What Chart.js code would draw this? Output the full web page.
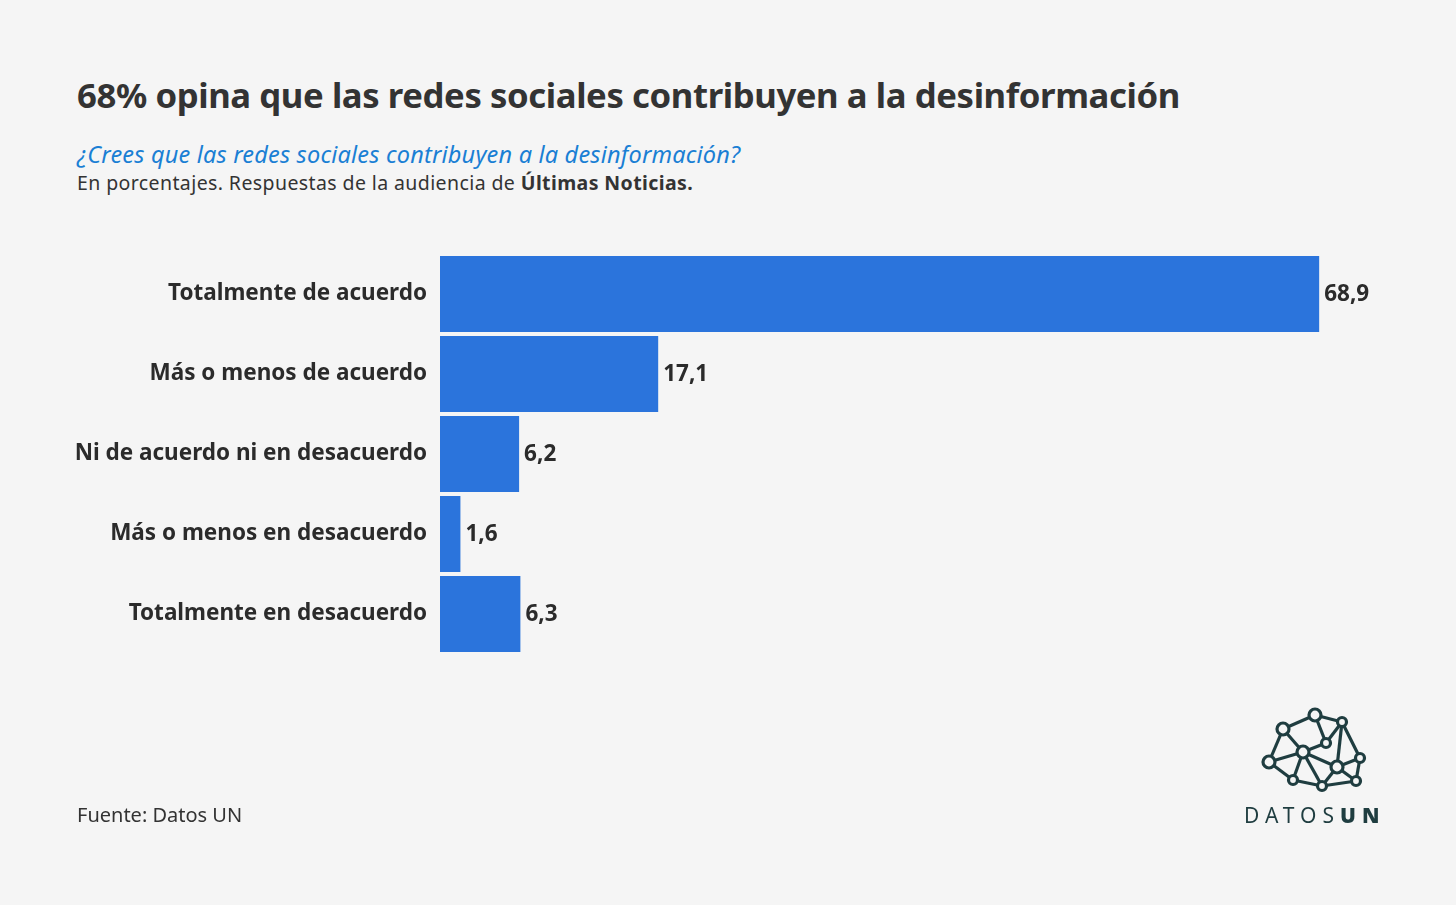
<!DOCTYPE html>
<html>
<head>
<meta charset="utf-8">
<script src="https://cdn.jsdelivr.net/npm/chart.js@4"></script>
<style>
  html, body { margin: 0; padding: 0; background: #f5f5f5; }
  body { width: 1456px; height: 905px; position: relative; overflow: hidden; font-family: "Noto Sans", sans-serif; color: #333; }
  #wrap { position: absolute; left: 0; top: 0; width: 1456px; height: 905px; }
  .title { position: absolute; left: 77px; top: 71px; font-size: 34.7px; font-weight: 700; letter-spacing: -0.4px; white-space: nowrap; }
  .question { position: absolute; left: 77px; top: 138px; font-size: 23.5px; font-style: italic; color: #1a7fd4; letter-spacing: 0.2px; white-space: nowrap; }
  .note { position: absolute; left: 77px; top: 169px; font-size: 19.5px; letter-spacing: 0.4px; white-space: nowrap; }
  .source { position: absolute; left: 77px; top: 801px; font-size: 20px; letter-spacing: 0; }
  .logo { position: absolute; left: 1240px; top: 700px; }
  .brand { position: absolute; left: 1244px; top: 801px; font-size: 21px; letter-spacing: 6px; color: #1f3d40; }
</style>
</head>
<body>
<div class="title">68% opina que las redes sociales contribuyen a la desinformación</div>
<div class="question">¿Crees que las redes sociales contribuyen a la desinformación?</div>
<div class="note">En porcentajes. Respuestas de la audiencia de <b>Últimas Noticias.</b></div>
<div id="wrap"><canvas id="barChart" width="1456" height="905"></canvas></div>
<div class="source">Fuente: Datos UN</div>

<svg class="logo" width="140" height="100" viewBox="1240 700 140 100">
  <g stroke="#1f3d40" stroke-width="3.2" fill="none">
    <line x1="1283" y1="729" x2="1315" y2="715"/>
    <line x1="1315" y1="715" x2="1342" y2="722"/>
    <line x1="1315" y1="715" x2="1326" y2="743"/>
    <line x1="1342" y1="722" x2="1326" y2="743"/>
    <line x1="1342" y1="722" x2="1337" y2="767"/>
    <line x1="1342" y1="722" x2="1360" y2="758"/>
    <line x1="1283" y1="729" x2="1303" y2="752"/>
    <line x1="1283" y1="729" x2="1269" y2="762"/>
    <line x1="1269" y1="762" x2="1303" y2="752"/>
    <line x1="1303" y1="752" x2="1326" y2="743"/>
    <line x1="1303" y1="752" x2="1293" y2="780"/>
    <line x1="1303" y1="752" x2="1322" y2="786"/>
    <line x1="1303" y1="752" x2="1337" y2="767"/>
    <line x1="1269" y1="762" x2="1293" y2="780"/>
    <line x1="1293" y1="780" x2="1322" y2="786"/>
    <line x1="1322" y1="786" x2="1337" y2="767"/>
    <line x1="1337" y1="767" x2="1360" y2="758"/>
    <line x1="1360" y1="758" x2="1356" y2="781"/>
    <line x1="1337" y1="767" x2="1356" y2="781"/>
    <line x1="1322" y1="786" x2="1356" y2="781"/>
  </g>
  <g stroke="#1f3d40" stroke-width="3.2" fill="#f5f5f5">
    <circle cx="1315" cy="715" r="6"/>
    <circle cx="1342" cy="722" r="4.5"/>
    <circle cx="1283" cy="729" r="6"/>
    <circle cx="1326" cy="743" r="4.5"/>
    <circle cx="1303" cy="752" r="6"/>
    <circle cx="1269" cy="762" r="6"/>
    <circle cx="1360" cy="758" r="4.5"/>
    <circle cx="1337" cy="767" r="6"/>
    <circle cx="1293" cy="780" r="4.5"/>
    <circle cx="1322" cy="786" r="4.5"/>
    <circle cx="1356" cy="781" r="4.5"/>
  </g>
</svg>
<div class="brand">DATOS<b style="font-weight:900">UN</b></div>

<script>
// data
let respuestas = ['Totalmente de acuerdo', 'Más o menos de acuerdo', 'Ni de acuerdo ni en desacuerdo', 'Más o menos en desacuerdo', 'Totalmente en desacuerdo'];
let porcentajes = [68.9, 17.1, 6.2, 1.6, 6.3];

// value labels at the end of each bar
const valueLabels = {
    id: 'valueLabels',
    afterDatasetsDraw(chart) {
        const ctx = chart.ctx;
        const meta = chart.getDatasetMeta(0);
        ctx.save();
        ctx.font = 'bold 22.5px "Noto Sans"';
        ctx.fillStyle = '#2b2b2b';
        ctx.textAlign = 'left';
        ctx.textBaseline = 'middle';
        meta.data.forEach((bar, i) => {
            ctx.fillText(porcentajes[i].toFixed(1).replace('.', ','), bar.x + 5, bar.y + 1);
        });
        ctx.restore();
    }
};

const ctx = document.getElementById('barChart').getContext('2d');
const barChart = new Chart(ctx, {
    type: 'bar',
    data: {
        labels: respuestas,
        datasets: [{
            label: 'Porcentaje',
            data: porcentajes,
            backgroundColor: '#2b74dc',
            borderWidth: 0,
            barPercentage: 0.95,
            categoryPercentage: 1
        }]
    },
    options: {
        indexAxis: 'y',
        responsive: false,
        animation: false,
        layout: {
            padding: { left: 0, top: 254, right: 59, bottom: 251 }
        },
        scales: {
            x: {
                display: false,
                min: 0,
                max: 75
            },
            y: {
                grid: { display: false, drawTicks: false },
                border: { display: false },
                ticks: {
                    padding: 13,
                    color: '#2b2b2b',
                    font: { family: '"Noto Sans"', size: 22.5, weight: 'bold' }
                },
                afterFit(scale) {
                    scale.width = 440;
                }
            }
        },
        plugins: {
            legend: { display: false },
            tooltip: { enabled: false }
        }
    },
    plugins: [valueLabels]
});
</script>
</body>
</html>
